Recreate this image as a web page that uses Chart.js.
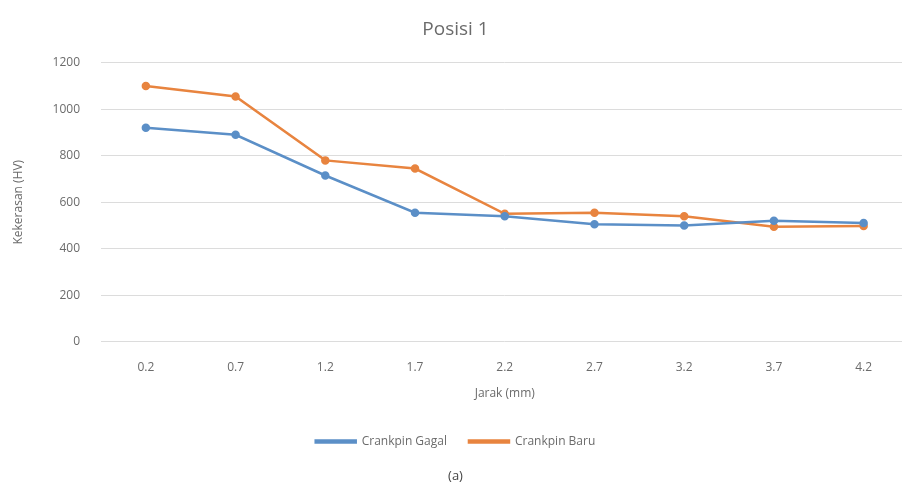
<!DOCTYPE html>
<html>
<head>
<meta charset="utf-8">
<script src="https://cdn.jsdelivr.net/npm/chart.js@4/dist/chart.umd.min.js"></script>
<style>
  html, body { margin: 0; padding: 0; background: #fff; overflow: hidden; }
  #wrap { width: 915px; height: 484px; }
</style>
</head>
<body>
<div id="wrap"><canvas id="chart"></canvas></div>
<script>
  const jarak = ['0.2', '0.7', '1.2', '1.7', '2.2', '2.7', '3.2', '3.7', '4.2'];
  const gagal = [920, 890, 715, 555, 540, 505, 500, 520, 510];
  const baru = [1100, 1055, 780, 745, 550, 555, 540, 494, 498];
  const yTicks = [0, 200, 400, 600, 800, 1000, 1200];

  const textGrey = '#6b6b6b';
  const fontFam = '"Open Sans", "Noto Sans", sans-serif';

  const ctx = document.getElementById('chart').getContext('2d');
  new Chart(ctx, {
    type: 'line',
    data: {
      labels: jarak,
      datasets: [
        {
          label: 'Crankpin Gagal',
          data: gagal,
          borderColor: '#5b8fc7',
          backgroundColor: '#5b8fc7',
          borderWidth: 2.5,
          pointRadius: 3,
          pointStyle: 'circle',
          tension: 0
        },
        {
          label: 'Crankpin Baru',
          data: baru,
          borderColor: '#e8843f',
          backgroundColor: '#e8843f',
          borderWidth: 2.5,
          pointRadius: 3,
          pointStyle: 'circle',
          tension: 0
        }
      ]
    },
    options: {
      responsive: true,
      maintainAspectRatio: false,
      animation: false,
      layout: { padding: { left: 0, right: 4, top: 14, bottom: 0 } },
      plugins: {
        title: {
          display: true,
          text: 'Posisi 1',
          color: '#6b6b6b',
          font: { family: fontFam, size: 19, weight: 'normal' },
          padding: { top: 4, bottom: 22 }
        },
        subtitle: {
          display: true,
          position: 'bottom',
          text: '(a)',
          color: '#444',
          font: { family: fontFam, size: 13 },
          padding: { top: 11, bottom: 0 }
        },
        legend: {
          position: 'bottom',
          labels: {
            color: textGrey,
            font: { family: fontFam, size: 12 },
            boxWidth: 40,
            boxHeight: 2,
            padding: 22
          }
        },
        tooltip: { enabled: false }
      },
      scales: {
        x: {
          offset: true,
          grid: { display: false, drawTicks: false },
          border: { display: false },
          ticks: { color: textGrey, font: { family: fontFam, size: 12 }, padding: 19 },
          title: {
            display: true,
            text: 'Jarak (mm)',
            color: textGrey,
            font: { family: fontFam, size: 12 },
            padding: { top: -8, bottom: 13 }
          }
        },
        y: {
          min: 0,
          max: 1200,
          afterFit: s => { s.width = 101; },
          afterBuildTicks: s => { s.ticks = yTicks.map(v => ({ value: v })); },
          grid: { color: '#dcdcdc', drawTicks: false },
          border: { display: false },
          ticks: {
            color: textGrey,
            font: { family: fontFam, size: 12 },
            padding: 21,
            callback: v => String(v)
          },
          title: {
            display: true,
            text: 'Kekerasan (HV)',
            color: textGrey,
            font: { family: fontFam, size: 12 },
            padding: { top: 11, bottom: 4 }
          }
        }
      }
    }
  });
</script>
</body>
</html>
